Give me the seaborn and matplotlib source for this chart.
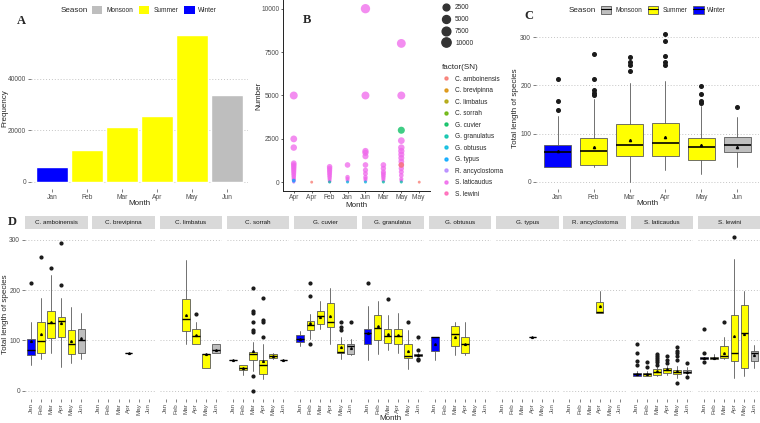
import matplotlib
matplotlib.use("Agg")
import matplotlib.pyplot as plt
from matplotlib.patches import Patch
from matplotlib.lines import Line2D
import numpy as np
import pandas as pd
import seaborn as sns

# ---------------- data ----------------
months = ["Jan", "Feb", "Mar", "Apr", "May", "Jun"]
month_season = ["Winter", "Summer", "Summer", "Summer", "Summer", "Monsoon"]
seasons = ["Monsoon", "Summer", "Winter"]
season_colors = {"Monsoon": "#BEBEBE", "Summer": "#FFFF00", "Winter": "#0000FF"}

# panel A: catch frequency per month
frequency = [5550, 12150, 21400, 25750, 57000, 33800]

# panel B: number per record
b_months = ["Apr", "Apr ", "Feb", "Jan", "Jun", "Mar", "May", "May "]
species = ["C. amboinensis", "C. brevipinna", "C. limbatus", "C. sorrah", "G. cuvier",
           "G. granulatus", "G. obtusus", "G. typus", "R. ancyclostoma", "S. laticaudus",
           "S. lewini"]
species_colors = ["#F8766D", "#DB8E00", "#AEA200", "#64B200", "#00BD5C", "#00C1A7",
                  "#00BADE", "#00A6FF", "#B385FF", "#EF67EB", "#FF63B6"]
laticaudus_number = {
    "Apr": [5000, 2500, 2000, 1100, 1000, 900, 800, 700, 600, 500, 400, 300, 200, 150, 100, 50],
    "Feb": [900, 800, 700, 600, 500, 400, 300, 200, 100, 50],
    "Jan": [1000, 300, 200, 100],
    "Jun": [10000, 5000, 1800, 1700, 1500, 1000, 700, 500, 300, 200, 100],
    "Mar": [1000, 800, 600, 500, 400, 300, 200, 100],
    "May": [8000, 5000, 2400, 2000, 1800, 1600, 1400, 1200, 1000, 800, 600, 400, 200, 100],
}
other_month = ["Apr", "Apr", "Apr ", "Feb", "Jan", "Jun", "Mar", "May", "May", "May", "May "]
other_species = ["R. ancyclostoma", "G. typus", "C. amboinensis", "G. granulatus", "G. obtusus",
                 "G. obtusus", "G. granulatus", "G. cuvier", "C. amboinensis", "G. granulatus",
                 "C. amboinensis"]
other_number = [10, 100, 10, 20, 20, 20, 20, 3000, 1000, 20, 10]
size_breaks = [2500, 5000, 7500, 10000]

# panel C: (month, whisker low, q1, median, q3, whisker high, mean, outliers)
c_stats = [
    ("Jan", 30, 30, 61, 76, 136, 64, [149, 168, 213]),
    ("Feb", 30, 34, 64, 91, 172, 73, [265, 213, 190, 185, 181]),
    ("Mar", 0, 54, 76, 119, 204, 87, [260, 248, 243, 230]),
    ("Apr", 24, 54, 80, 121, 209, 92, [306, 292, 261, 248, 243]),
    ("May", 15, 45, 72, 91, 158, 76, [199, 182, 168, 163]),
    ("Jun", 31, 61, 76, 93, 135, 73, [156]),
]

# panel D: same layout, one list per species
amboinensis = [
    ("Jan", 52, 71, 82, 102, 136, 98, [214]),
    ("Feb", 64, 76, 98, 136, 185, 112, [265]),
    ("Mar", 76, 105, 134, 159, 229, 136, [243]),
    ("Apr", 48, 106, 138, 147, 185, 134, [293, 210]),
    ("May", 55, 74, 92, 121, 167, 98, []),
    ("Jun", 64, 75, 100, 122, 155, 104, []),
]
brevipinna = [("Apr", 76, 76, 76, 76, 76, 76, [])]
limbatus = [
    ("Mar", 92, 119, 143, 183, 259, 151, []),
    ("Apr", 92, 92, 108, 122, 136, 111, [153]),
    ("May", 46, 46, 73, 73, 73, 73, []),
    ("Jun", 76, 76, 82, 92, 92, 82, []),
]
sorrah = [
    ("Jan", 61, 61, 61, 61, 61, 61, []),
    ("Feb", 31, 42, 46, 52, 52, 46, []),
    ("Mar", 40, 61, 74, 77, 97, 80, [205, 158, 155, 136, 120, 117, 30, 0]),
    ("Apr", 24, 33, 52, 61, 92, 59, [184, 140, 136, 107]),
    ("May", 64, 65, 69, 73, 75, 69, []),
    ("Jun", 61, 61, 61, 61, 61, 61, []),
]
cuvier = [
    ("Jan", 89, 96, 103, 111, 118, 103, []),
    ("Feb", 103, 121, 131, 138, 152, 135, [214, 189, 92]),
    ("Mar", 122, 132, 148, 159, 179, 146, []),
    ("Apr", 92, 127, 137, 175, 205, 148, []),
    ("May", 64, 76, 78, 92, 106, 86, [136, 127, 121]),
    ("Jun", 71, 73, 88, 92, 103, 85, [136]),
]
granulatus = [
    ("Jan", 61, 92, 115, 122, 168, 115, [214]),
    ("Feb", 74, 101, 125, 150, 179, 128, []),
    ("Mar", 82, 94, 108, 122, 150, 113, [183]),
    ("Apr", 76, 92, 108, 122, 155, 110, []),
    ("May", 43, 65, 70, 92, 121, 80, [136]),
    ("Jun", 69, 69, 71, 74, 76, 72, [106, 82, 64, 61]),
]
obtusus = [
    ("Jan", 61, 80, 107, 107, 107, 93, []),
    ("Mar", 71, 88, 113, 128, 136, 106, []),
    ("Apr", 71, 76, 93, 106, 136, 93, []),
]
typus = [("Apr", 106, 106, 106, 106, 106, 106, [])]
ancyclostoma = [("Apr", 154, 154, 156, 176, 198, 169, [])]
laticaudus = [
    ("Jan", 29, 29, 33, 36, 40, 33, [92, 76, 59, 52]),
    ("Feb", 30, 30, 33, 36, 40, 33, [58, 48]),
    ("Mar", 30, 32, 38, 43, 47, 39, [74, 69, 65, 61, 57, 52]),
    ("Apr", 32, 36, 42, 45, 50, 43, [69, 61, 56]),
    ("May", 26, 33, 37, 41, 49, 39, [86, 80, 75, 69, 61, 15]),
    ("Jun", 32, 35, 38, 41, 47, 38, [55, 28]),
]
lewini = [
    ("Jan", 63, 63, 65, 67, 67, 65, [122, 76, 57]),
    ("Feb", 64, 64, 65, 67, 74, 65, []),
    ("Mar", 63, 66, 69, 88, 107, 76, [136]),
    ("Apr", 26, 60, 76, 151, 262, 108, [305]),
    ("May", 30, 45, 115, 171, 198, 113, []),
    ("Jun", 46, 59, 76, 80, 90, 71, []),
]
d_data = [amboinensis, brevipinna, limbatus, sorrah, cuvier, granulatus,
          obtusus, typus, ancyclostoma, laticaudus, lewini]

# ---------------- style ----------------
sns.set_theme(style="white")
plt.rcParams["font.family"] = ["Liberation Sans", "DejaVu Sans"]
TICK = "#4D4D4D"
GRID = "#C4C4C4"
W, H = 760, 423
fig = plt.figure(figsize=(W / 100, H / 100), dpi=100)


def add_ax(x0, y0, x1, y1):
    return fig.add_axes([x0 / W, 1 - y1 / H, (x1 - x0) / W, (y1 - y0) / H])


def gg_axes(ax, yticks, ylim, grid=True):
    ax.set_ylim(*ylim)
    ax.set_yticks(yticks)
    for s in ax.spines.values():
        s.set_visible(False)
    if grid:
        for yv in yticks:
            ax.axhline(yv, color=GRID, lw=0.7, ls=(0, (1, 2)), zorder=0)
    ax.tick_params(axis="both", length=2, width=0.5, color=TICK, labelcolor=TICK,
                   labelsize=4.8, pad=1.5, left=True, bottom=True)


def draw_boxes(ax, rows, flier_ms, mean_ms, med_lw):
    stats, pos, cols = [], [], []
    for m, lo, q1, med, q3, hi, mean, fl in rows:
        stats.append(dict(med=med, q1=q1, q3=q3, whislo=lo, whishi=hi, mean=mean, fliers=fl))
        i = months.index(m)
        pos.append(i)
        cols.append(season_colors[month_season[i]])
    bp = ax.bxp(stats, positions=pos, widths=0.75, patch_artist=True, showmeans=True,
                showcaps=False, manage_ticks=False,
                boxprops=dict(edgecolor="#5A5A5A", linewidth=0.6),
                whiskerprops=dict(color="#5A5A5A", linewidth=0.6),
                medianprops=dict(color="black", linewidth=med_lw),
                flierprops=dict(marker="o", markerfacecolor="#1A1A1A", markeredgecolor="#1A1A1A",
                                markersize=flier_ms, linestyle="none"),
                meanprops=dict(marker="^", markerfacecolor="black", markeredgecolor="black",
                               markersize=mean_ms))
    for patch, c in zip(bp["boxes"], cols):
        patch.set_facecolor(c)
    ax.set_xlim(-0.6, 5.6)
    ax.set_xticks(range(6))


def panel_letter(x, y, s):
    fig.text(x / W, 1 - y / H, s, fontfamily="Liberation Serif", fontweight="bold",
             fontsize=9, ha="center", va="center")


def season_legend(x_title, x_keys, y, boxes=False):
    fig.text(x_title / W, 1 - y / H, "Season", fontsize=5.8, va="center", ha="left")
    handles = []
    for s in seasons:
        p = Patch(facecolor=season_colors[s], edgecolor="#5A5A5A" if boxes else "none", lw=0.6)
        if boxes:
            handles.append((p, Line2D([], [], color="black", lw=0.8)))
        else:
            handles.append(p)
    fig.legend(handles, seasons, loc="center left", bbox_to_anchor=(x_keys / W, 1 - y / H),
               ncol=3, frameon=False, handlelength=1.6, handleheight=1.6, handletextpad=0.6,
               columnspacing=0.9, fontsize=4.7, borderpad=0, borderaxespad=0)


# ---------------- panel A ----------------
ax_a = add_ax(31, 28, 248, 189)
df_a = pd.DataFrame({"Month": months, "Frequency": frequency, "Season": month_season})
sns.barplot(data=df_a, x="Month", y="Frequency", hue="Season", palette=season_colors,
            dodge=False, width=0.9, saturation=1, legend=False, ax=ax_a)
ax_a.set_xlim(-0.6, 5.6)
gg_axes(ax_a, [0, 20000, 40000], (-2850, 59850))
ax_a.set_xlabel("Month", fontsize=5.8)
ax_a.set_ylabel("Frequency", fontsize=5.8)
ax_a.xaxis.set_label_coords(0.5, -0.07)
ax_a.yaxis.set_label_coords(-0.103, 0.5)
season_legend(61, 92, 10)
panel_letter(21, 21, "A")

# ---------------- panel B ----------------
ax_b = add_ax(283, 0, 430, 191)
b_rows = []
for m in b_months:
    for n in laticaudus_number.get(m, []):
        b_rows.append((m, "S. laticaudus", n))
    for mm, sp, n in zip(other_month, other_species, other_number):
        if mm == m:
            b_rows.append((mm, sp, n))
df_b = pd.DataFrame(b_rows, columns=["Month", "SN", "Number"])
df_b["size"] = np.sqrt(df_b["Number"])
sns.scatterplot(data=df_b, x="Month", y="Number", hue="SN", hue_order=species,
                palette=species_colors, size="size", sizes=(3, 45), size_norm=(0, 100),
                alpha=0.75, linewidth=0, legend=False, ax=ax_b)
ax_b.set_xlim(-0.6, 7.6)
ax_b.set_ylim(-500, 10500)
ax_b.set_yticks([0, 2500, 5000, 7500, 10000])
sns.despine(ax=ax_b)
for s in ["left", "bottom"]:
    ax_b.spines[s].set_color("#222222")
    ax_b.spines[s].set_linewidth(0.7)
ax_b.tick_params(axis="both", length=1.5, width=0.5, color="#222222", labelcolor=TICK,
                 labelsize=4.8, pad=0.8, left=True, bottom=True)
ax_b.set_xlabel("Month", fontsize=5.8)
ax_b.set_ylabel("Number", fontsize=5.8)
ax_b.xaxis.set_label_coords(0.5, -0.055)
ax_b.yaxis.set_label_coords(-0.139, 0.5)
panel_letter(307, 20, "B")

size_handles = [Line2D([], [], marker="o", ls="", color="#333333",
                       markersize=np.sqrt(3 + 42 * np.sqrt(v) / 100)) for v in size_breaks]
leg1 = fig.legend(size_handles, [str(v) for v in size_breaks], loc="upper left",
                  bbox_to_anchor=(442 / W, 1 - 4 / H), frameon=False, fontsize=4.7,
                  handlelength=1.2, handletextpad=0.8, labelspacing=0.75,
                  borderpad=0, borderaxespad=0)
sp_handles = [Line2D([], [], marker="o", ls="", color=c, markersize=2.2, alpha=0.8)
              for c in species_colors]
leg2 = fig.legend(sp_handles, species, loc="upper left", title="factor(SN)",
                  bbox_to_anchor=(442 / W, 1 - 64 / H), frameon=False, fontsize=4.7,
                  title_fontsize=5.8, handlelength=1.2, handletextpad=0.8,
                  labelspacing=0.69, borderpad=0, borderaxespad=0)
leg2._legend_box.align = "left"

# ---------------- panel C ----------------
ax_c = add_ax(536, 27, 759, 189)
draw_boxes(ax_c, c_stats, flier_ms=2.6, mean_ms=1.6, med_lw=1.2)
ax_c.set_xticklabels(months)
gg_axes(ax_c, [0, 100, 200, 300], (-15.3, 321.3))
ax_c.set_xlabel("Month", fontsize=5.8)
ax_c.set_ylabel("Total length of species", fontsize=5.8)
ax_c.xaxis.set_label_coords(0.5, -0.068)
ax_c.yaxis.set_label_coords(-0.078, 0.5)
season_legend(569, 601, 10, boxes=True)
panel_letter(529, 16, "C")

# ---------------- panel D ----------------
for i, (name, rows) in enumerate(zip(species, d_data)):
    x0 = 25 + i * 67.3
    x1 = x0 + 62.5
    strip = add_ax(x0, 216, x1, 229)
    strip.set_facecolor("#D9D9D9")
    strip.set_xticks([])
    strip.set_yticks([])
    for s in strip.spines.values():
        s.set_visible(False)
    strip.text(0.5, 0.5, name, ha="center", va="center", fontsize=4.5, color="#1A1A1A",
               transform=strip.transAxes)

    ax = add_ax(x0, 229.5, x1, 398.5)
    draw_boxes(ax, rows, flier_ms=2.0, mean_ms=1.3, med_lw=1.0)
    gg_axes(ax, [0, 100, 200, 300], (-15.25, 320.25))
    ax.set_xticklabels(months, rotation=90, fontsize=4.5)
    if i > 0:
        ax.tick_params(axis="y", left=False, labelleft=False)
    else:
        ax.set_ylabel("Total length of species", fontsize=5.8)
        ax.yaxis.set_label_coords(-0.25, 0.5)

fig.text(390 / W, 1 - 418 / H, "Month", fontsize=5.8, ha="center", va="center")
panel_letter(12, 222, "D")

fig.savefig("out.png", dpi=100, facecolor="white")
